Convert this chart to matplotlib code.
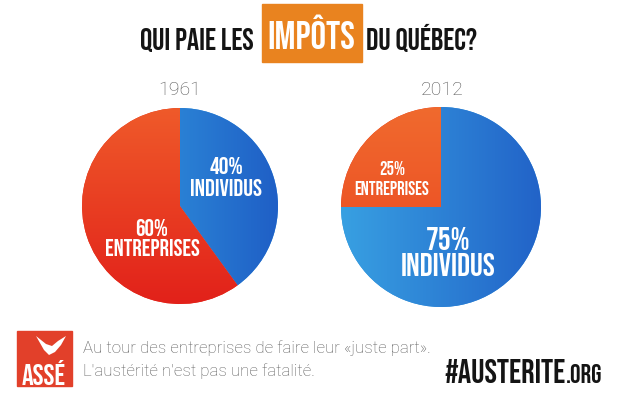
import numpy as np
import matplotlib
matplotlib.use("Agg")
import matplotlib.pyplot as plt
from matplotlib import font_manager
from matplotlib.patches import Rectangle, Polygon
from matplotlib.colors import to_rgb

# donnees
categories = ["INDIVIDUS", "ENTREPRISES"]
years = ["1961", "2012"]
parts_1961 = [40, 60]
parts_2012 = [75, 25]

W, H = 632, 396

installed = {f.name for f in font_manager.fontManager.ttflist}


def pick(*names):
    for n in names:
        if n in installed:
            return n
    return "DejaVu Sans"


cond = pick("Bebas Neue", "Oswald", "Fjalla One", "Anton", "League Gothic",
            "Roboto Condensed", "Liberation Sans Narrow", "DejaVu Sans")
thin = pick("Roboto", "Lato", "Open Sans")
# taille relative si la police condensee n'est pas Bebas
k = 1.0 if cond == "Bebas Neue" else 0.8

blue = "#2e92dc"
red = "#e8361f"


def gradient(c1, c2, horizontal):
    t = np.linspace(0, 1, 200)
    a, b = np.array(to_rgb(c1)), np.array(to_rgb(c2))
    g = a[None, :] * (1 - t[:, None]) + b[None, :] * t[:, None]
    if horizontal:
        return np.repeat(g[None, :, :], 200, axis=0)
    return np.repeat(g[:, None, :], 200, axis=1)


def draw_pie(cx, cy, r, values, shades):
    pax = fig.add_axes([(cx - r) / W, 1 - (cy + r) / H, 2 * r / W, 2 * r / H])
    wedges, _ = pax.pie(values, colors=[blue, red], startangle=90,
                        counterclock=False, radius=1,
                        wedgeprops=dict(linewidth=0))
    for w, (c1, c2, horiz) in zip(wedges, shades):
        im = pax.imshow(gradient(c1, c2, horiz), extent=[-1, 1, -1, 1],
                        origin="lower", zorder=w.get_zorder() + 0.1)
        im.set_clip_path(w)
    pax.set_xlim(-1, 1)
    pax.set_ylim(-1, 1)
    pax.set_aspect("equal")
    pax.axis("off")
    return pax


fig = plt.figure(figsize=(W / 100, H / 100), dpi=100)
fig.patch.set_facecolor("white")

draw_pie(180, 206, 98, parts_1961,
         [("#35a2e3", "#1f5fc6", True), ("#e2211a", "#ef5a2a", False)])
draw_pie(441, 207, 100, parts_2012,
         [("#38a0e2", "#2263c8", True), ("#ea421f", "#f06a2e", False)])

ax = fig.add_axes([0, 0, 1, 1])
ax.set_xlim(0, W)
ax.set_ylim(H, 0)
ax.patch.set_alpha(0)
ax.axis("off")

bold = dict(family=cond, fontweight="bold" if cond != "Bebas Neue" else "normal")

# titre
ax.add_patch(Rectangle((262, 4), 100, 58, color="#e9831f"))
ax.text(254, 50, "QUI PAIE LES", ha="right", va="baseline", fontsize=22 * k,
        color="#141414", **bold)
ax.text(311, 49, "IMPÔTS", ha="center", va="baseline", fontsize=28 * k,
        color="white", **bold)
ax.text(366, 50, "DU QUÉBEC?", ha="left", va="baseline", fontsize=22 * k,
        color="#141414", **bold)

# annees
ax.text(180, 90, years[0], ha="center", va="center", fontsize=14,
        fontweight="light", family=thin, color="#555555")
ax.text(442, 90, years[1], ha="center", va="center", fontsize=14,
        fontweight="light", family=thin, color="#555555")

# etiquettes des parts
lab = dict(ha="center", va="center", color="white", **bold)
ax.text(226, 165, f"{parts_1961[0]}%", fontsize=17.5 * k, **lab)
ax.text(226, 187, categories[0], fontsize=17.5 * k, **lab)
ax.text(152, 228, f"{parts_1961[1]}%", fontsize=17 * k, **lab)
ax.text(152, 248, categories[1], fontsize=17 * k, **lab)
ax.text(392, 168, f"{parts_2012[1]}%", fontsize=13.5 * k, **lab)
ax.text(392, 188, categories[1], fontsize=13.5 * k, **lab)
ax.text(448, 238, f"{parts_2012[0]}%", fontsize=23 * k, **lab)
ax.text(448, 265, categories[0], fontsize=23 * k, **lab)

# logo ASSE
ax.add_patch(Rectangle((17, 331), 55, 55, color="#e2402a"))
ax.add_patch(Polygon([(36, 336), (46, 344), (52, 346), (58, 341), (66, 336),
                      (61, 345), (55, 352), (49, 355), (44, 350), (40, 343)],
                     closed=True, color="white", linewidth=0))
ax.text(44, 385, "ASSÉ", ha="center", va="baseline", fontsize=21 * k,
        color="white", **bold)

# slogan
ax.text(83, 348, "Au tour des entreprises de faire leur «juste part».",
        ha="left", va="center", fontsize=12.2, fontweight="light",
        family=thin, color="#5e5e5e")
ax.text(83, 371, "L'austérité n'est pas une fatalité.",
        ha="left", va="center", fontsize=12.2, fontweight="light",
        family=thin, color="#5e5e5e")

ax.text(566, 383, "#AUSTERITE", ha="right", va="baseline", fontsize=24 * k,
        color="#141414", **bold)
ax.text(566, 383, ".ORG", ha="left", va="baseline", fontsize=19 * k,
        color="#141414", **bold)

fig.savefig("out.png", dpi=100, facecolor="white")
